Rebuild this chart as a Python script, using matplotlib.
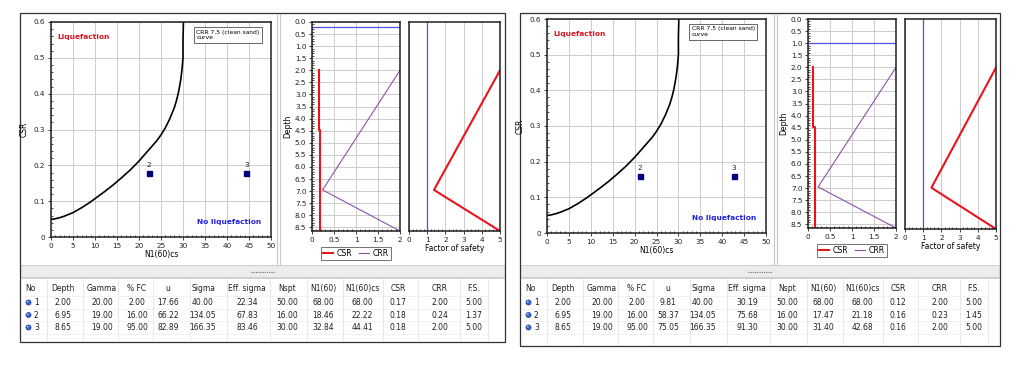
import matplotlib
matplotlib.use('Agg')
import matplotlib.pyplot as plt
from matplotlib.patches import Rectangle, Circle
from matplotlib.ticker import MultipleLocator
import numpy as np

W, H = 1024, 365
plt.rcParams['font.family'] = ['DejaVu Sans']

# ---------------- data ----------------
curve_n = [0, 1, 2, 3, 4, 5, 6, 7, 8, 9, 10, 12, 14, 16, 18, 20, 22, 24, 25, 26,
           27, 28, 28.5, 29, 29.5, 29.8, 30.0, 30.0, 30.1]
curve_crr = [0.049, 0.051, 0.054, 0.058, 0.063, 0.068, 0.075, 0.082, 0.090, 0.098,
             0.107, 0.125, 0.144, 0.165, 0.187, 0.212, 0.240, 0.268, 0.285, 0.305,
             0.330, 0.360, 0.380, 0.405, 0.440, 0.470, 0.500, 0.550, 0.600]

columns = ['No', 'Depth', 'Gamma', '% FC', 'u', 'Sigma', 'Eff. sigma', 'Nspt',
           'N1(60)', 'N1(60)cs', 'CSR', 'CRR', 'F.S.']
layer_no = [1, 2, 3]
depth = [2.00, 6.95, 8.65]
gamma = [20.00, 19.00, 19.00]
fc = [2.00, 16.00, 95.00]
sigma = [40.00, 134.05, 166.35]
nspt = [50.00, 16.00, 30.00]

left_u = [17.66, 66.22, 82.89]
left_eff = [22.34, 67.83, 83.46]
left_n160 = [68.00, 18.46, 32.84]
left_n160cs = [68.00, 22.22, 44.41]
left_csr = [0.17, 0.18, 0.18]
left_crr = [2.00, 0.24, 2.00]
left_fs = [5.00, 1.37, 5.00]
left_water = 0.2

right_u = [9.81, 58.37, 75.05]
right_eff = [30.19, 75.68, 91.30]
right_n160 = [68.00, 17.47, 31.40]
right_n160cs = [68.00, 21.18, 42.68]
right_csr = [0.12, 0.16, 0.16]
right_crr = [2.00, 0.23, 2.00]
right_fs = [5.00, 1.45, 5.00]
right_water = 1.0

fig = plt.figure(figsize=(W / 100, H / 100), dpi=100)
fig.patch.set_facecolor('white')
bg = fig.add_axes([0, 0, 1, 1])
bg.set_xlim(0, W)
bg.set_ylim(H, 0)
bg.axis('off')

def rect(l, t, r, b):
    return [l / W, 1 - b / H, (r - l) / W, (b - t) / H]

TICK = 5.2
LAB = 5.5
GRID = '#cccccc'
NAVY = '#000080'
RED = '#e8141e'
PURPLE = '#9050a8'
BLUE = '#5050e0'

def style(ax):
    for s in ax.spines.values():
        s.set_linewidth(1.1)
        s.set_color('#202020')
    ax.tick_params(which='major', length=2.5, width=0.6, labelsize=TICK, pad=1.5, colors='#202020')
    ax.tick_params(which='minor', length=1.5, width=0.5, direction='in')

def panel(frame, div_x, ax1r, ax2r, ax3r, u, eff, n160, n160cs, csr, crr, fs, water):
    fl, ft, fr, fb = frame
    bg.add_patch(Rectangle((fl, ft), fr - fl, fb - ft, fill=False, ec='#303030', lw=0.9))
    # chart/table splitter
    bg.add_patch(Rectangle((fl + 1, 265), fr - fl - 2, 12, fc='#ececec', ec='#c8c8c8', lw=0.6))
    cx = (fl + fr) / 2
    bg.plot([cx - 12, cx + 12], [271.5, 271.5], color='#707070', lw=0.8, ls=(0, (1, 1)))
    for dx in (0, 3):
        bg.plot([div_x + dx, div_x + dx], [ft + 1, 265], color='#c8c8c8', lw=0.8)

    # ---- chart 1: CSR vs N1(60)cs ----
    ax1 = fig.add_axes(rect(*ax1r))
    ax1.plot(curve_n, curve_crr, color='black', lw=1.2)
    for no, n, c in zip(layer_no, n160cs, csr):
        if n <= 50:
            ax1.plot(n, c, 's', color=NAVY, ms=3.6)
            ax1.annotate(str(no), (n, c), xytext=(0, 4), textcoords='offset points',
                         ha='center', fontsize=TICK, color='#202020')
    ax1.set_xlim(0, 50)
    ax1.set_ylim(0, 0.6)
    ax1.xaxis.set_major_locator(MultipleLocator(5))
    ax1.xaxis.set_minor_locator(MultipleLocator(1))
    ax1.yaxis.set_minor_locator(MultipleLocator(0.02))
    ax1.set_yticks(np.arange(0, 0.61, 0.1))
    ax1.set_yticklabels(['0', '0.1', '0.2', '0.3', '0.4', '0.5', '0.6'])
    ax1.grid(True, which='major', color=GRID, lw=0.7)
    style(ax1)
    ax1.set_xlabel('N1(60)cs', fontsize=LAB, labelpad=1)
    ax1.set_ylabel('CSR', fontsize=LAB, labelpad=4)
    ax1.text(0.03, 0.93, 'Liquefaction', transform=ax1.transAxes, color='#e01020',
             fontsize=5.3, fontweight='bold', va='center')
    ax1.text(0.955, 0.07, 'No liquefaction', transform=ax1.transAxes, color='#2020e0',
             fontsize=5.3, fontweight='bold', va='center', ha='right')
    ax1.text(0.66, 0.965, 'CRR 7.5 (clean sand)\ncurve', transform=ax1.transAxes,
             fontsize=4.3, va='top', ha='left', multialignment='left', linespacing=1.1,
             bbox=dict(boxstyle='square,pad=0.45', fc='white', ec='#505050', lw=0.6))

    # ---- chart 2: CSR / CRR vs depth ----
    ax2 = fig.add_axes(rect(*ax2r))
    dmax = depth[-1]
    bounds = [depth[0]] + [(depth[i] + depth[i + 1]) / 2 for i in range(len(depth) - 1)] + [dmax]
    sx, sy = [], []
    for i, c in enumerate(csr):
        sx += [c, c]
        sy += [bounds[i], bounds[i + 1]]
    ax2.plot(sx, sy, color=RED, lw=1.5, label='CSR')
    ax2.plot(crr, depth, color=PURPLE, lw=0.8, label='CRR')
    ax2.axhline(water, color=BLUE, lw=0.9)
    ax2.set_xlim(0, 2)
    ax2.set_ylim(dmax, 0)
    ax2.set_xticks([0, 0.5, 1, 1.5, 2])
    ax2.set_xticklabels(['0', '0.5', '1', '1.5', '2'])
    ax2.xaxis.set_minor_locator(MultipleLocator(0.1))
    ax2.set_yticks(np.arange(0, 8.51, 0.5))
    ax2.set_yticklabels(['%.1f' % v for v in np.arange(0, 8.51, 0.5)])
    ax2.yaxis.set_minor_locator(MultipleLocator(0.1))
    ax2.grid(True, which='major', color=GRID, lw=0.7)
    style(ax2)
    ax2.set_ylabel('Depth', fontsize=LAB, labelpad=2)
    leg = ax2.legend(loc='upper center', bbox_to_anchor=(0.5, -0.075), ncol=2, fontsize=5.6,
                     frameon=True, fancybox=False, edgecolor='#505050', handlelength=1.2,
                     handletextpad=0.5, columnspacing=0.9, borderpad=0.3, borderaxespad=0)
    leg.get_frame().set_linewidth(0.7)

    # ---- chart 3: factor of safety ----
    ax3 = fig.add_axes(rect(*ax3r))
    ax3.plot(fs, depth, color=RED, lw=1.5)
    ax3.axvline(1.0, color=BLUE, lw=0.9)
    ax3.set_xlim(0, 5)
    ax3.set_ylim(dmax, 0)
    ax3.set_xticks([0, 1, 2, 3, 4, 5])
    ax3.xaxis.set_minor_locator(MultipleLocator(0.2))
    ax3.set_yticks([])
    ax3.grid(True, axis='x', which='major', color=GRID, lw=0.7)
    style(ax3)
    ax3.set_xlabel('Factor of safety', fontsize=LAB, labelpad=1)

    # ---- table ----
    tl, tr = fl, fr
    col_sep = [27, 63, 98, 133, 170, 207, 250, 287, 323, 363, 398, 440, 468]
    col_ctr = [9, 43, 82, 117, 148, 183, 227, 267, 303, 342, 378, 420, 454]
    hy, ry = 288.5, [302.5, 315, 327.5]
    bg.plot([tl + 1, tr - 1], [277.5, 277.5], color='#c8c8c8', lw=0.6)
    for x in col_sep:
        bg.plot([tl + x, tl + x], [278, fb - 1], color='#e4e4e4', lw=0.6)
    for y in [296, 308.5, 321, 333.5]:
        bg.plot([tl + 1, tl + col_sep[-1]], [y, y], color='#ededed', lw=0.5)
    for name, x in zip(columns, col_ctr):
        ha = 'left' if name == 'No' else 'center'
        xx = tl + 5 if name == 'No' else tl + x
        bg.text(xx, hy, name, fontsize=5.5, ha=ha, va='center', color='#202020')
    rows = list(zip(layer_no, depth, gamma, fc, u, sigma, eff, nspt, n160, n160cs, csr, crr, fs))
    for r, y in zip(rows, ry):
        bg.add_patch(Circle((tl + 8.5, y), 2.6, fc='#3060c8', ec='#203a90', lw=0.4))
        bg.add_patch(Circle((tl + 7.8, y - 0.8), 0.9, fc='#a8c4ff', ec='none'))
        bg.text(tl + 14, y, str(r[0]), fontsize=5.5, ha='left', va='center', color='#202020')
        for v, x in zip(r[1:], col_ctr[1:]):
            bg.text(tl + x, y, '%.2f' % v, fontsize=5.5, ha='center', va='center', color='#202020')

panel((20, 13, 505, 342), 277, (51, 22, 271, 237), (312, 22, 400, 231), (409, 22, 500, 231),
      left_u, left_eff, left_n160, left_n160cs, left_csr, left_crr, left_fs, left_water)
panel((520, 13, 1000, 346), 774, (547, 19, 766, 233), (808, 19, 896, 228), (905, 19, 996, 229),
      right_u, right_eff, right_n160, right_n160cs, right_csr, right_crr, right_fs, right_water)

fig.savefig('out.png', dpi=100, facecolor='white')
